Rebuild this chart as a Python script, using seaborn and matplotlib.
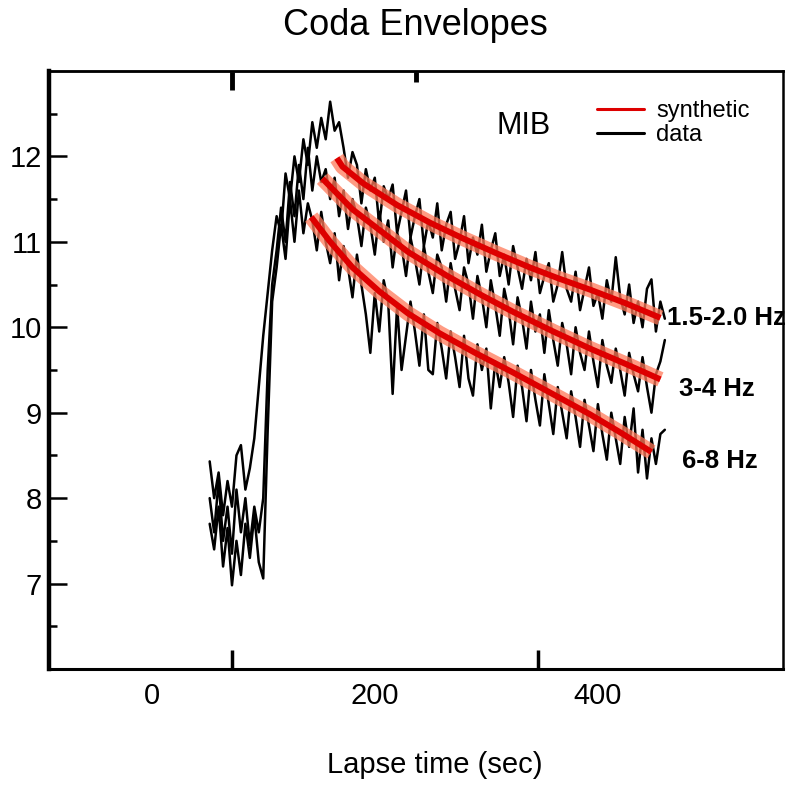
import numpy as np
import pandas as pd
import seaborn as sns
import matplotlib.pyplot as plt
from matplotlib.lines import Line2D

# 데이터: lapse time 축 (4초 간격 샘플)
lapse = np.arange(52, 461, 4)

env_15_20 = [8.43, 8.0, 8.3, 7.8, 8.2, 7.9, 8.5, 8.62, 8.1, 8.35,
             8.7, 9.3, 9.9, 10.4, 10.9, 11.3, 11.1, 11.8, 11.5, 12.0,
             11.7, 12.2, 11.9, 12.4, 12.1, 12.45, 12.2, 12.64, 12.3, 12.4,
             12.1, 11.75, 12.05, 11.9, 11.45, 11.85, 11.6, 11.75, 11.2, 11.65,
             11.5, 11.67, 11.1, 11.35, 11.6, 11.05, 11.3, 11.5, 10.95, 11.25,
             11.05, 11.45, 10.9, 11.2, 11.35, 10.8, 11.0, 11.3, 10.75, 11.05,
             10.85, 11.2, 10.65, 10.9, 11.1, 10.6, 10.85, 10.5, 10.95, 10.7,
             10.45, 10.8, 10.55, 10.88, 10.4, 10.6, 10.75, 10.3, 10.5, 10.88,
             10.45, 10.3, 10.65, 10.2, 10.45, 10.7, 10.25, 10.4, 10.1, 10.55,
             10.3, 10.82, 10.35, 10.15, 10.5, 10.05, 10.3, 10.0, 10.45, 10.56,
             9.95, 10.3, 10.1]

env_3_4 = [8.0, 7.6, 8.2, 7.5, 7.9, 7.35, 8.1, 7.6, 8.0, 7.45,
           7.9, 7.6, 8.0, 9.5, 10.5, 10.9, 11.4, 11.0, 11.7, 11.3,
           11.9, 11.5, 12.1, 11.6, 12.0, 11.7, 11.85, 11.5, 11.75, 11.3,
           11.6, 11.15, 11.5, 11.3, 10.95, 11.4, 11.2, 10.85, 11.35, 11.0,
           11.25, 10.7, 11.1, 10.95, 10.6, 11.05, 10.8, 10.5, 10.95, 10.65,
           10.4, 10.85, 10.7, 10.3, 10.75, 10.45, 10.2, 10.7, 10.5, 10.1,
           10.6, 10.35, 10.0, 10.55, 10.25, 9.9, 10.45, 10.2, 9.8, 10.35,
           10.1, 9.75, 10.3, 9.95, 10.15, 9.7, 10.2, 9.85, 9.55, 10.05,
           9.8, 9.45, 10.0, 9.7, 9.5, 9.95, 9.6, 9.3, 9.85, 9.55,
           9.35, 9.75, 9.5, 9.2, 9.7, 9.45, 9.25, 9.65, 9.3, 9.0,
           9.45, 9.6, 9.85]

env_6_8 = [7.7, 7.4, 7.9, 7.2, 7.65, 6.98, 7.5, 7.1, 7.7, 7.3,
           7.8, 7.25, 7.06, 8.8, 10.3, 10.7, 11.2, 10.8, 11.5, 11.0,
           11.6, 11.1, 11.45, 11.25, 10.9, 11.35, 11.0, 10.75, 11.1, 10.55,
           10.95, 10.7, 10.35, 10.85, 10.5, 10.15, 9.7, 10.4, 9.95, 10.55,
           10.3, 9.22, 10.25, 9.5, 9.9, 10.3, 9.95, 9.55, 10.15, 9.5,
           9.45, 10.05, 9.75, 9.4, 9.95, 9.65, 9.3, 9.9, 9.4, 9.2,
           9.8, 9.5, 9.75, 9.05, 9.6, 9.3, 9.65, 9.35, 8.95, 9.55,
           9.3, 8.9, 9.5, 9.15, 8.85, 9.45, 9.1, 8.75, 9.3, 9.0,
           8.7, 9.25, 8.95, 8.6, 9.15, 8.85, 8.55, 9.1, 8.75, 8.45,
           9.0, 8.7, 8.4, 8.95, 8.6, 9.05, 8.3, 8.8, 8.23, 8.7,
           8.4, 8.75, 8.8]

# synthetic 피팅 곡선
syn_t_15_20 = [166, 171, 190, 220, 250, 279, 310, 339, 365, 393, 425, 456]
syn_15_20 = [11.98, 11.88, 11.68, 11.43, 11.22, 11.04, 10.86, 10.70, 10.57, 10.44, 10.28, 10.11]
syn_t_3_4 = [153, 162, 180, 204, 230, 265, 295, 324, 360, 393, 425, 456]
syn_3_4 = [11.74, 11.62, 11.38, 11.14, 10.88, 10.60, 10.38, 10.18, 9.95, 9.75, 9.57, 9.39]
syn_t_6_8 = [143, 160, 180, 204, 230, 258, 290, 324, 348, 393, 420, 448]
syn_6_8 = [11.29, 11.00, 10.70, 10.42, 10.16, 9.93, 9.70, 9.47, 9.30, 8.98, 8.77, 8.54]

bands = ['1.5-2.0 Hz', '3-4 Hz', '6-8 Hz']

data_df = pd.concat([
    pd.DataFrame({'lapse': lapse, 'amp': v, 'band': b})
    for b, v in zip(bands, [env_15_20, env_3_4, env_6_8])
])
syn_df = pd.concat([
    pd.DataFrame({'lapse': t, 'amp': v, 'band': b})
    for b, t, v in zip(bands, [syn_t_15_20, syn_t_3_4, syn_t_6_8],
                       [syn_15_20, syn_3_4, syn_6_8])
])

sns.set_theme(style='white')
plt.rcParams['font.family'] = ['Liberation Sans', 'DejaVu Sans']
plt.rcParams['text.color'] = 'black'
plt.rcParams['xtick.color'] = 'black'
plt.rcParams['ytick.color'] = 'black'
plt.rcParams['axes.labelcolor'] = 'black'

fig = plt.figure(figsize=(7.91, 7.88), dpi=100)
ax = fig.add_axes([0.062, 0.151, 0.928, 0.759])

# 관측 데이터 (검정)
sns.lineplot(data=data_df, x='lapse', y='amp', units='band', estimator=None,
             color='black', lw=1.8, ax=ax, zorder=2)
# synthetic (빨강, 밝은 테두리 + 진한 중심)
sns.lineplot(data=syn_df, x='lapse', y='amp', units='band', estimator=None,
             color='#ff7a5a', lw=11, alpha=0.75, ax=ax, zorder=3,
             solid_capstyle='butt')
sns.lineplot(data=syn_df, x='lapse', y='amp', units='band', estimator=None,
             color='#dd0000', lw=4.3, ax=ax, zorder=4, solid_capstyle='butt')

ax.set_xlim(-92, 566)
ax.set_ylim(6, 13)
ax.set_xlabel('')
ax.set_ylabel('')

# 축 스타일
for side, lw in [('left', 3.2), ('bottom', 2.2), ('top', 1.8), ('right', 1.8)]:
    ax.spines[side].set_linewidth(lw)
    ax.spines[side].set_color('black')

ax.set_yticks([7, 8, 9, 10, 11, 12])
ax.set_yticks(np.arange(6.5, 13, 1), minor=True)
ax.tick_params(axis='y', which='major', direction='in', length=13, width=1.8,
               labelsize=21, pad=5, left=True)
ax.tick_params(axis='y', which='minor', direction='in', length=6, width=1.8, left=True)

ax.set_xticks([0, 200, 400])
ax.set_xticks([72, 346], minor=True)
ax.tick_params(axis='x', which='major', length=0, labelsize=21, pad=9)
ax.tick_params(axis='x', which='minor', direction='in', length=14, width=2.5,
               bottom=True, top=False)

top = ax.secondary_xaxis('top')
top.set_xticks([72])
top.set_xticks([237], minor=True)
top.tick_params(which='major', direction='in', length=14, width=3.5, labeltop=False)
top.tick_params(which='minor', direction='in', length=8, width=3.5)
top.spines['top'].set_linewidth(1.8)

# 레이블 텍스트
ax.text(462, 10.11, '1.5-2.0 Hz', fontsize=18.5, fontweight='bold', va='center',
        ha='left', clip_on=False)
ax.text(473, 9.28, '3-4 Hz', fontsize=18.5, fontweight='bold', va='center', ha='left')
ax.text(475, 8.44, '6-8 Hz', fontsize=18.5, fontweight='bold', va='center', ha='left')
ax.text(309, 12.35, 'MIB', fontsize=22, va='center', ha='left')

handles = [Line2D([], [], color='#dd0000', lw=2.2),
           Line2D([], [], color='black', lw=2.2)]
ax.legend(handles, ['synthetic', 'data'], loc='upper left',
          bbox_to_anchor=(597 / 791, 1 - 100 / 788), bbox_transform=fig.transFigure,
          frameon=False, fontsize=17, handlelength=2.0, handletextpad=0.5,
          labelspacing=0.1, borderpad=0, borderaxespad=0)

fig.text(0.525, 0.968, 'Coda Envelopes', fontsize=26, ha='center', va='center')
fig.text(0.55, 0.029, 'Lapse time (sec)', fontsize=21, ha='center', va='center')

plt.savefig('out.png', dpi=100)
